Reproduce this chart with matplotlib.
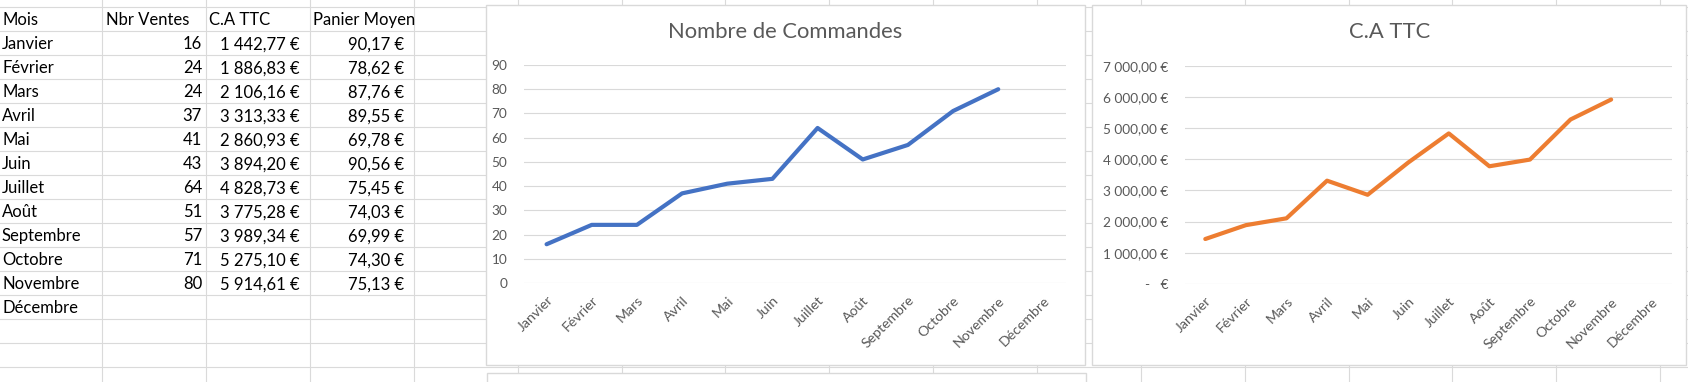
import numpy as np
import matplotlib

matplotlib.use("Agg")
import matplotlib.pyplot as plt
from matplotlib.patches import Rectangle
from matplotlib.ticker import FuncFormatter, MultipleLocator

plt.rcParams["font.family"] = ["Lato", "DejaVu Sans"]

# data
mois = ["Janvier", "Février", "Mars", "Avril", "Mai", "Juin", "Juillet",
        "Août", "Septembre", "Octobre", "Novembre", "Décembre"]
nbr_ventes = [16, 24, 24, 37, 41, 43, 64, 51, 57, 71, 80]
ca_ttc = [1442.77, 1886.83, 2106.16, 3313.33, 2860.93, 3894.20, 4828.73,
          3775.28, 3989.34, 5275.10, 5914.61]
panier_moyen = [90.17, 78.62, 87.76, 89.55, 69.78, 90.56, 75.45,
                74.03, 69.99, 74.30, 75.13]
headers = ["Mois", "Nbr Ventes", "C.A TTC", "Panier Moyen"]

W, H = 1688, 382
GRID = "#dadada"
TXT = "#595959"
FS = 12


def euro(v, decimals=2):
    if v == 0:
        return "-   €"
    s = f"{v:,.{decimals}f}".replace(",", " ").replace(".", ",")
    return s + " €"


def px_axes(fig, x0, y0, x1, y1):
    # pixel box (top-left origin) -> figure axes
    return fig.add_axes([x0 / W, 1 - y1 / H, (x1 - x0) / W, (y1 - y0) / H])


fig = plt.figure(figsize=(W / 100, H / 100), dpi=100)
bg = fig.add_axes([0, 0, 1, 1])
bg.set_xlim(0, W)
bg.set_ylim(H, 0)
bg.axis("off")

# sheet grid
col_w, row_h, row0 = 103.85, 24.0, 7.3
for i in range(1, 17):
    bg.axvline(i * col_w - 1.5, color=GRID, lw=0.8, zorder=0)
for k in range(16):
    bg.axhline(row0 + k * row_h, color=GRID, lw=0.8, zorder=0)

# table
cols_x = [2, 106, 209, 313]
yc = row0 + row_h / 2
for hx, h in zip(cols_x, headers):
    bg.text(hx, yc + 1, h, fontsize=FS, va="center", ha="left", color="black")
for i, m in enumerate(mois):
    y = row0 + (i + 1) * row_h + row_h / 2 + 1
    bg.text(2, y, m, fontsize=FS, va="center", ha="left", color="black")
    if i < len(nbr_ventes):
        bg.text(202, y, str(nbr_ventes[i]), fontsize=FS, va="center", ha="right")
        bg.text(300, y, euro(ca_ttc[i]), fontsize=FS, va="center", ha="right")
        bg.text(404, y, euro(panier_moyen[i]), fontsize=FS, va="center", ha="right")

# chart frames
for (x0, y0, x1, y1) in [(486, 4.5, 1085, 364.5), (1092, 5, 1686, 365), (486.5, 372.5, 1086, 400)]:
    bg.add_patch(Rectangle((x0, y0), x1 - x0, y1 - y0, facecolor="white",
                           edgecolor="#d9d9d9", lw=1.0, zorder=2))


def line_chart(box, values, color, title, title_x, step, top, fmt):
    ax = px_axes(fig, *box)
    vals = list(values) + [np.nan] * (len(mois) - len(values))
    ax.plot(mois, vals, color=color, lw=3.0, solid_capstyle="round",
            solid_joinstyle="round", zorder=3)
    ax.set_xlim(-0.5, len(mois) - 0.5)
    ax.set_ylim(0, top)
    ax.yaxis.set_major_locator(MultipleLocator(step))
    ax.yaxis.set_major_formatter(FuncFormatter(fmt))
    ax.grid(axis="y", color="#d9d9d9", lw=0.8)
    ax.set_axisbelow(True)
    for s in ax.spines.values():
        s.set_visible(False)
    ax.tick_params(length=0, colors=TXT, labelsize=9.8)
    ax.tick_params(axis="y", pad=12)
    ax.tick_params(axis="x", pad=8, labelsize=10.2)
    plt.setp(ax.get_xticklabels(), rotation=45, ha="right", rotation_mode="anchor")
    ax.patch.set_alpha(0)
    fig.text(title_x / W, 1 - 32 / H, title, ha="center", va="center",
             fontsize=15.8, color=TXT)
    return ax


line_chart((524, 65, 1066, 283), nbr_ventes, "#4472C4", "Nombre de Commandes",
           785, 10, 90, lambda v, p: f"{v:.0f}")
line_chart((1185, 65.7, 1672, 284), ca_ttc, "#ED7D31", "C.A TTC",
           1390, 1000, 7000, lambda v, p: euro(v))

fig.savefig("out.png", dpi=100, facecolor="white")
